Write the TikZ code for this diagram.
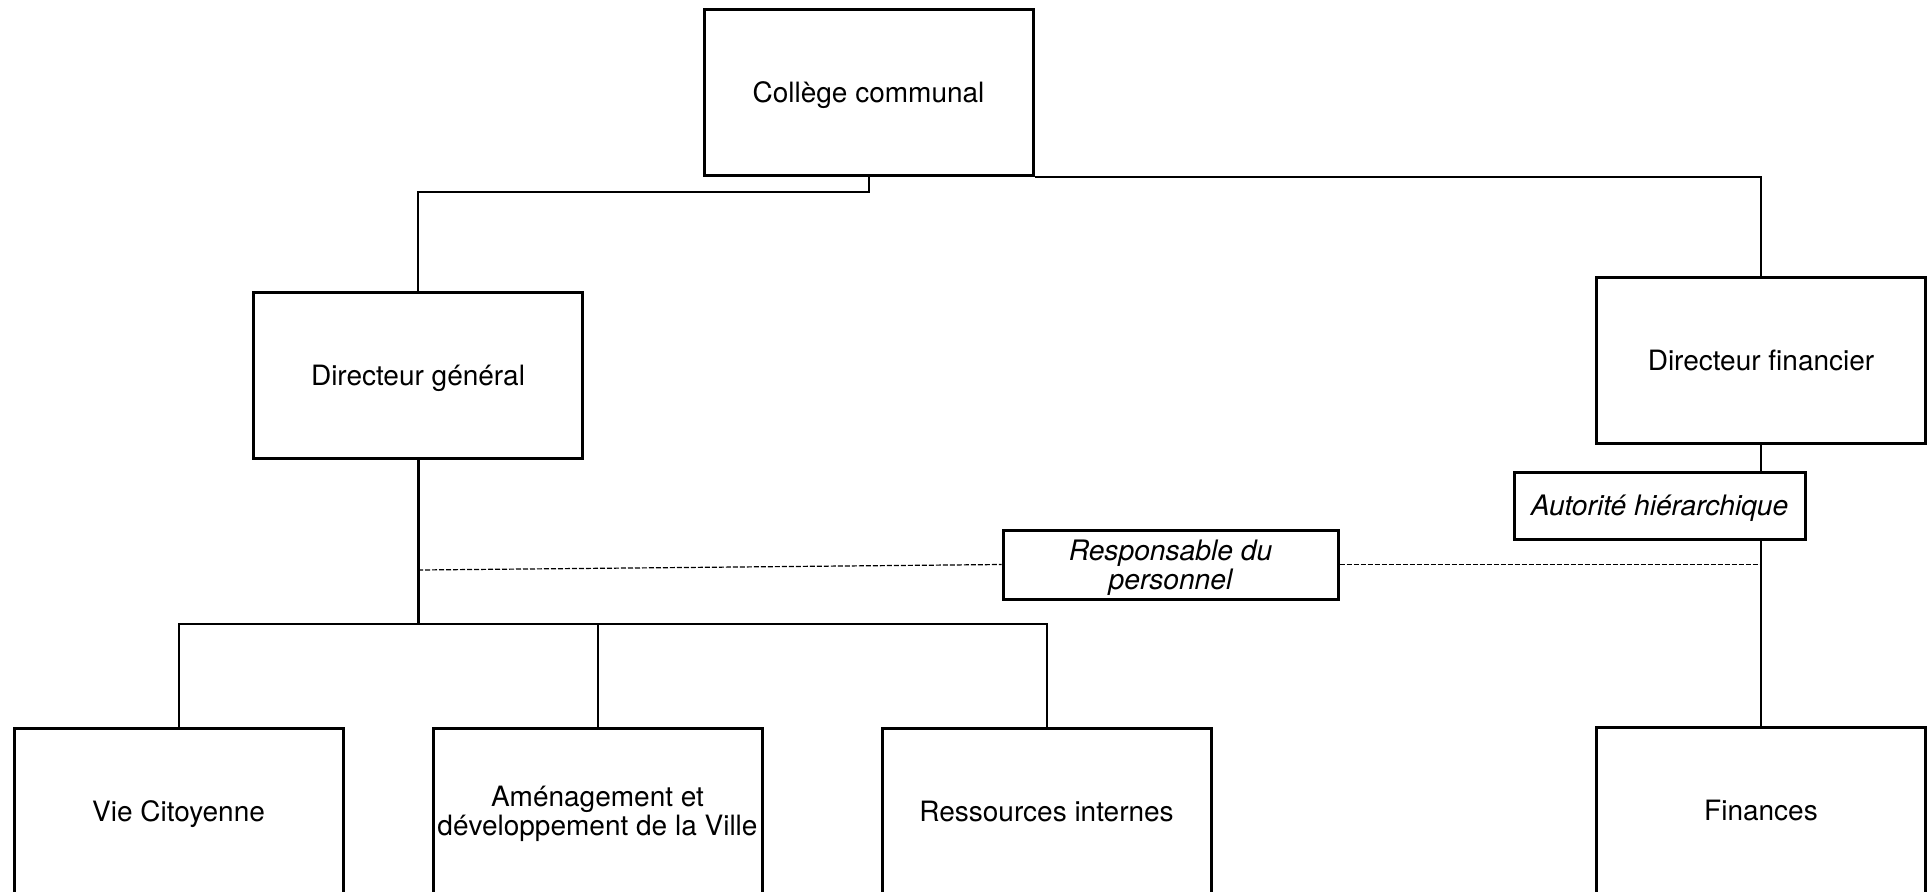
\documentclass[tikz,border=0pt]{standalone}
\usepackage{fontspec}
\setmainfont{TeX Gyre Heros}
\begin{document}
\begin{tikzpicture}[x=0.5pt,y=-0.5pt,
  box/.style={draw=black,line width=1.5pt,fill=white,inner sep=0pt,align=center,
    text depth=0pt,font=\fontsize{14pt}{16pt}\selectfont},
  bigbox/.style={box,minimum width=164.5pt,minimum height=83pt},
  tagbox/.style={box,font=\fontsize{14.1pt}{12.5pt}\selectfont\itshape},
  conn/.style={line width=1pt},
  dashline/.style={line width=0.6pt,dash pattern=on 2.5pt off 1pt}]
\useasboundingbox (0,0) rectangle (1928,891);
\clip (0,0) rectangle (1928,891);
% nodes
\node[bigbox] (col) at (868.5,92) {Collège communal};
\node[bigbox] (dg) at (418,375.5) {Directeur général};
\node[bigbox] (df) at (1761,360) {Directeur financier};
\node[tagbox,minimum width=145.5pt,minimum height=33.5pt] (aut) at (1659.5,505.5) {Autorité hiérarchique};
\node[tagbox,minimum width=167.5pt,minimum height=34.5pt] (resp) at (1170.5,564.5) {Responsable du\\personnel};
\node[bigbox] (vie) at (178.5,811) {Vie Citoyenne};
\node[bigbox,font=\fontsize{14pt}{14.75pt}\selectfont] (amen) at (597.5,811) {Aménagement et\\développement de la Ville};
\node[bigbox] (ress) at (1046.5,811) {Ressources internes};
\node[bigbox] (fin) at (1761,810) {Finances};
% coordinates
\coordinate (bus) at (418,624);
\coordinate (dl) at (418,570);
% connectors
\draw[conn] (col.south) -- ++(0,15) -| (dg.north);
\draw[conn] (col.south east) -| (df.north);
\draw[line width=1.5pt] (dg.south) -- (bus);
\draw[conn] (vie.north) |- (bus);
\draw[conn] (ress.north) |- (bus);
\draw[conn] (amen.north) -- (amen.north |- bus);
\draw[conn] (df.south) -- (df.south |- aut.north);
\draw[conn] (fin.north |- aut.south) -- (fin.north);
\draw[dashline] (dl) -- (resp.west);
\draw[dashline] (resp.east) -- (resp.east -| fin.north);
\end{tikzpicture}
\end{document}
